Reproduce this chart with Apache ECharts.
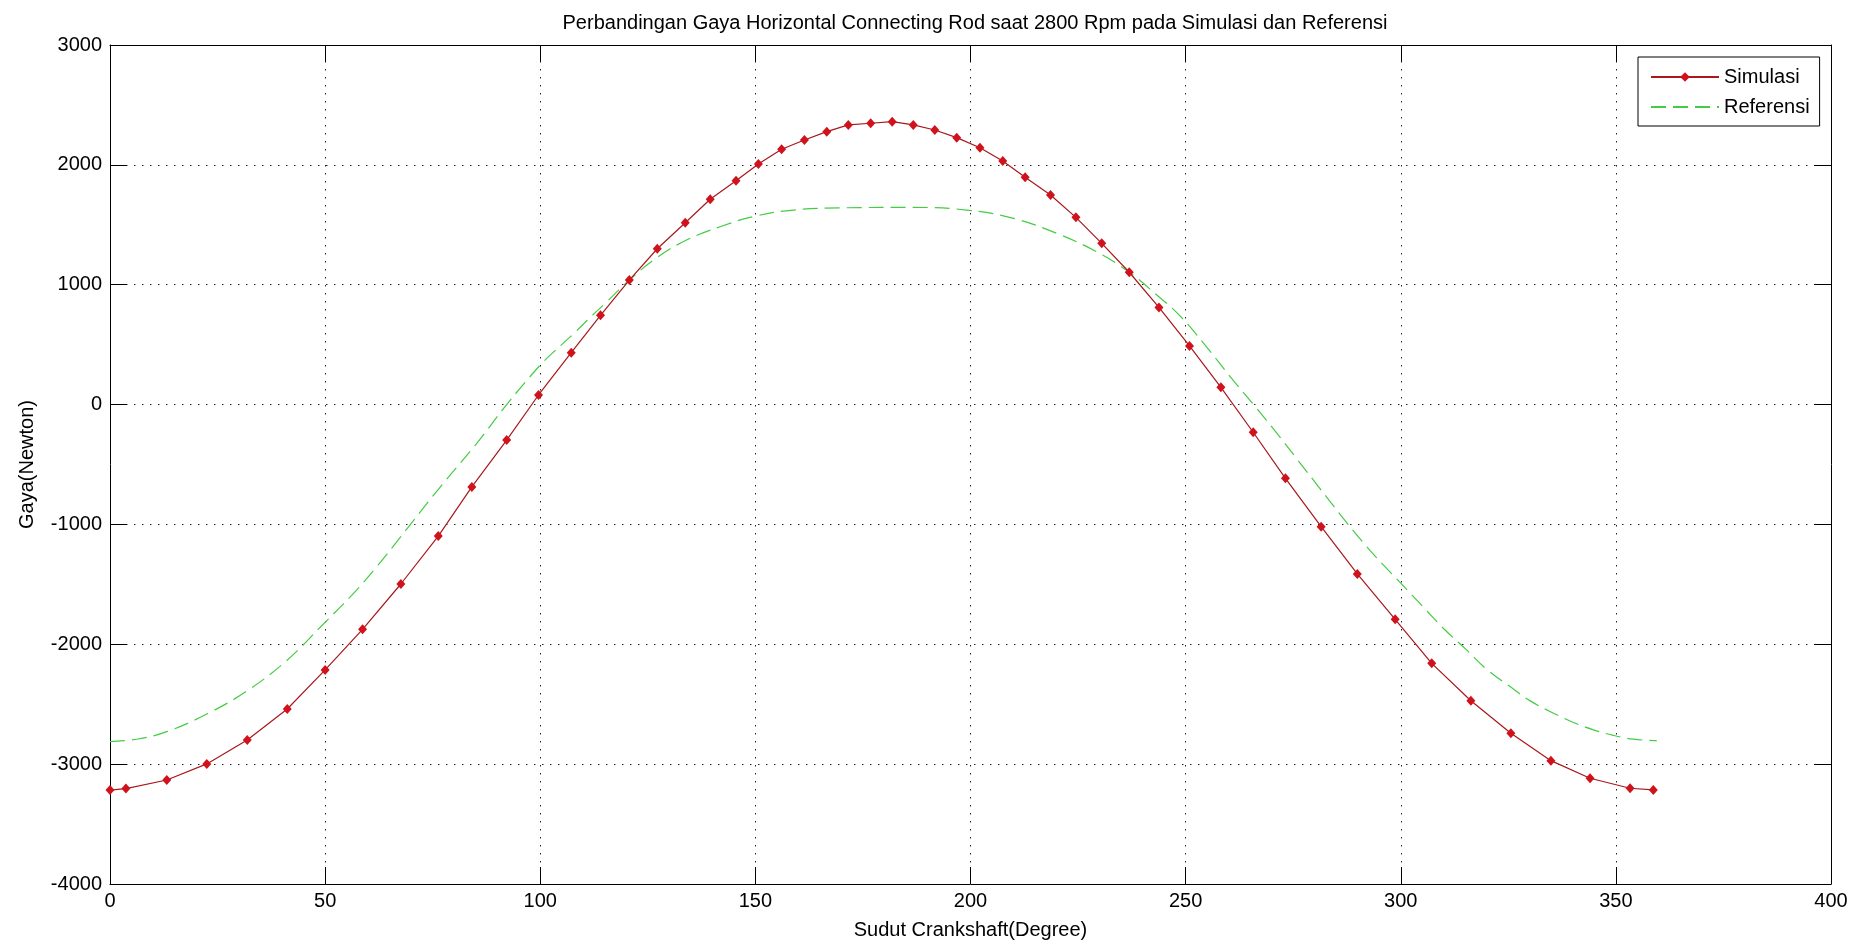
<!DOCTYPE html>
<html>
<head>
<meta charset="utf-8" />
<title>Perbandingan Gaya Horizontal Connecting Rod</title>
<script src="https://cdn.jsdelivr.net/npm/echarts@6/dist/echarts.min.js"></script>
<style>
  html, body { margin: 0; padding: 0; background: #fff; }
  #chart { width: 1868px; height: 946px; }
</style>
</head>
<body>
<div id="chart"></div>
<script>
// Simulasi: sudut crankshaft (derajat) dan gaya (N)
var simX = [0, 3.7, 13.2, 22.5, 31.9, 41.2, 50.0, 58.7, 67.6, 76.3, 84.1, 92.2, 99.6, 107.2, 114.0,
  120.7, 127.2, 133.7, 139.5, 145.5, 150.7, 156.1, 161.4, 166.6, 171.6, 176.8, 181.8, 186.7,
  191.7, 196.8, 202.2, 207.5, 212.7, 218.6, 224.5, 230.5, 236.9, 243.8, 250.9, 258.2, 265.7,
  273.2, 281.5, 289.9, 298.7, 307.2, 316.3, 325.6, 334.9, 344.0, 353.3, 358.7];
var simY = [-3216, -3204, -3132, -2998, -2798, -2540, -2214, -1875, -1497, -1097, -687, -296, 80, 433, 745,
  1039, 1300, 1517, 1713, 1868, 2007, 2130, 2207, 2277, 2333, 2347, 2360, 2333,
  2291, 2227, 2143, 2032, 1896, 1749, 1562, 1345, 1104, 810, 489, 144, -231,
  -615, -1019, -1413, -1792, -2159, -2471, -2743, -2971, -3118, -3201, -3215];

// Referensi
var refX = [0, 6.5, 13.2, 22.5, 31.8, 41.1, 49.2, 56.6, 62.0, 67.4, 76.7, 85.2, 92.2, 100.0, 103.0,
  107.7, 112.0, 115.4, 120.7, 127.1, 134.0, 141.8, 149.5, 158.8, 171.2, 186.7, 199.1, 210.0,
  220.0, 229.3, 236.9, 243.3, 248.7, 254.9, 260.3, 266.0, 271.0, 276.0, 281.0, 286.0, 291.0,
  296.0, 300.0, 305.0, 310.0, 315.3, 320.0, 325.4, 330.0, 335.5, 340.0, 344.8, 349.4, 354.1, 359.5];
var refY = [-2812, -2790, -2729, -2582, -2390, -2135, -1845, -1575, -1353, -1110, -690, -325, 0, 330, 435,
  590, 740, 855, 1039, 1225, 1373, 1484, 1568, 1623, 1642, 1645, 1623, 1554,
  1429, 1275, 1104, 914, 740, 480, 235, -10, -230, -460, -690, -920, -1140,
  -1340, -1490, -1680, -1870, -2047, -2210, -2353, -2470, -2575, -2650, -2714, -2760, -2792, -2804];

var seriesNames = ['Simulasi', 'Referensi'];
var titleText = 'Perbandingan Gaya Horizontal Connecting Rod saat 2800 Rpm pada Simulasi dan Referensi';
var xName = 'Sudut Crankshaft(Degree)';
var yName = 'Gaya(Newton)';

function pairs(xs, ys) {
  var out = [];
  for (var i = 0; i < xs.length; i++) out.push([xs[i], ys[i]]);
  return out;
}

var font = 'Liberation Sans, Arial, sans-serif';
var dotGrid = { show: true, lineStyle: { color: '#222', width: 1, type: [1.5, 6.5] } };
var tick = { show: true, inside: true, length: 17, lineStyle: { color: '#000', width: 1 } };
var line = { show: true, onZero: false, lineStyle: { color: '#000', width: 1 } };
var plain = function (v) { return String(v); };

var chart = echarts.init(document.getElementById('chart'));
var option = {
  animation: false,
  backgroundColor: '#fff',
  title: {
    text: titleText,
    left: 970, top: 8, textAlign: 'center',
    textStyle: { fontFamily: font, fontSize: 20, fontWeight: 'normal', color: '#000' }
  },
  legend: {
    orient: 'vertical',
    left: 1638, top: 57,
    data: [
      { name: seriesNames[0] },
      { name: seriesNames[1], itemStyle: { opacity: 0 } }
    ],
    backgroundColor: '#fff',
    borderColor: '#000', borderWidth: 1,
    padding: [10, 10, 9, 12],
    itemWidth: 68, itemHeight: 12, itemGap: 10,
    textStyle: { fontFamily: font, fontSize: 20, color: '#000' }
  },
  grid: { left: 110, right: 37, top: 45, bottom: 62, containLabel: false },
  xAxis: [{
    type: 'value', min: 0, max: 400, interval: 50,
    name: xName, nameLocation: 'middle', nameGap: 36,
    nameTextStyle: { fontFamily: font, fontSize: 20, color: '#000' },
    axisLine: line, axisTick: tick,
    axisLabel: { fontFamily: font, fontSize: 20, color: '#000', margin: 7, formatter: plain },
    splitLine: dotGrid
  }, {
    type: 'value', min: 0, max: 400, interval: 50, position: 'top',
    axisLine: line, axisTick: tick, axisLabel: { show: false }, splitLine: { show: false }
  }],
  yAxis: [{
    type: 'value', min: -4000, max: 3000, interval: 1000,
    name: yName, nameLocation: 'middle', nameGap: 73,
    nameTextStyle: { fontFamily: font, fontSize: 20, color: '#000' },
    axisLine: line, axisTick: tick,
    axisLabel: { fontFamily: font, fontSize: 20, color: '#000', margin: 8, formatter: plain },
    splitLine: dotGrid
  }, {
    type: 'value', min: -4000, max: 3000, interval: 1000, position: 'right',
    axisLine: line, axisTick: tick, axisLabel: { show: false }, splitLine: { show: false }
  }],
  series: [{
    name: seriesNames[0],
    type: 'line',
    data: pairs(simX, simY),
    symbol: 'diamond', symbolSize: [9, 10], showSymbol: true,
    itemStyle: { color: '#d0121c' },
    lineStyle: { color: '#a8181c', width: 1.2 },
    z: 3
  }, {
    name: seriesNames[1],
    type: 'line',
    data: pairs(refX, refY),
    smooth: 0.4,
    symbol: 'none', showSymbol: false,
    itemStyle: { color: '#44cc44' },
    lineStyle: { color: '#44cc44', width: 1.2, type: [15, 7] },
    z: 2
  }]
};
chart.setOption(option);
</script>
</body>
</html>
